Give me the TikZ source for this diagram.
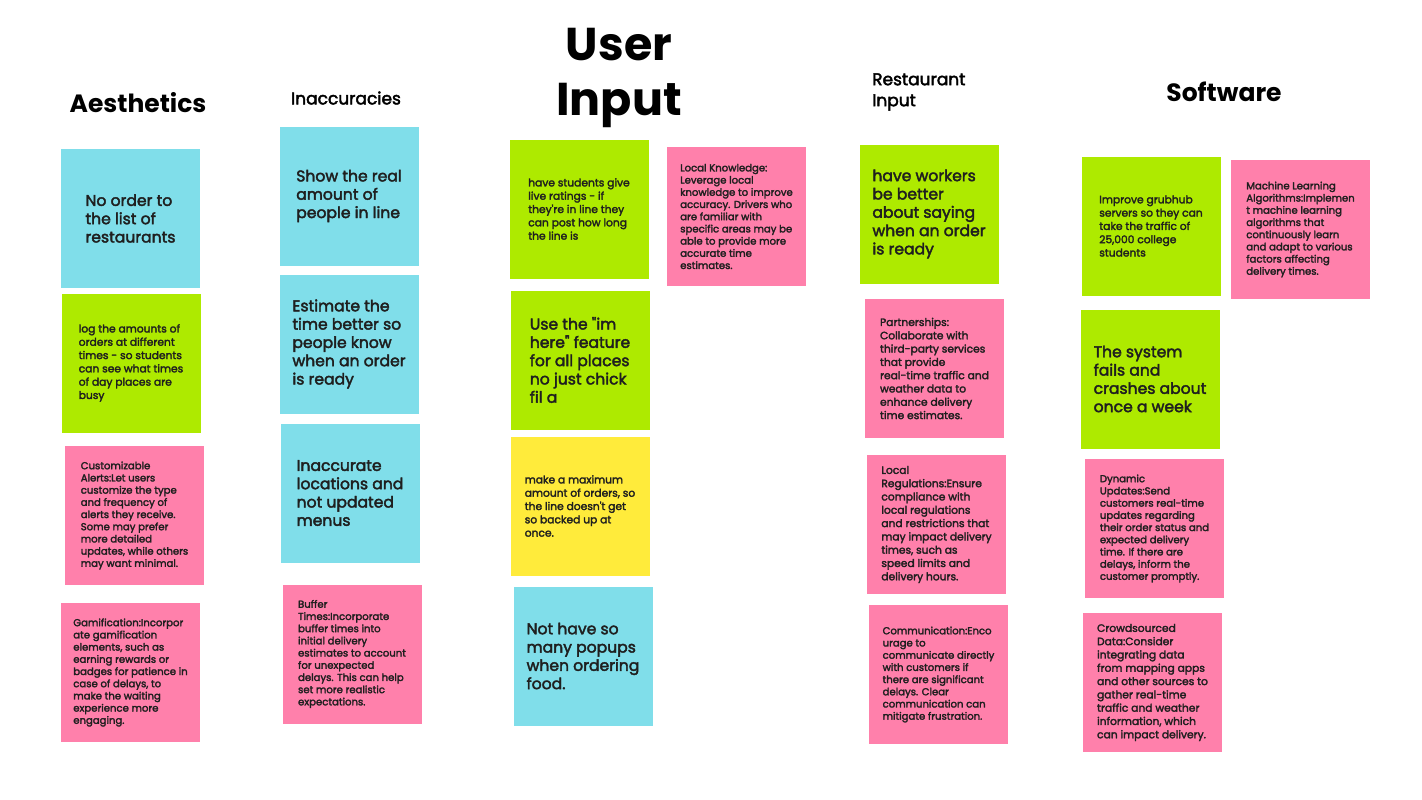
\documentclass[tikz,border=0pt]{standalone}
\usepackage{fontspec}
\setmainfont{Poppins}
\newfontfamily\notefont{Poppins}[FakeBold=2.5]
\definecolor{cyannote}{HTML}{80DEEA}
\definecolor{limenote}{HTML}{AEEA00}
\definecolor{pinknote}{HTML}{FF80AB}
\definecolor{yellownote}{HTML}{FFEB3B}
\begin{document}
\begin{tikzpicture}[x=1pt, y=-1pt,
  note/.style={minimum width=139pt, minimum height=139pt, inner sep=0pt, align=left, text=black!88},
  notesmall/.style={note, font=\notefont\fontsize{10.1}{12.2}\selectfont},
  notemid/.style={note, font=\notefont\fontsize{10.7}{13.3}\selectfont},
  notebig/.style={note, font=\notefont\fontsize{15.6}{18.3}\selectfont},
  heading/.style={inner sep=0pt, text=black, font=\fontsize{25}{30}\selectfont\bfseries},
  subheading/.style={inner sep=0pt, text=black, align=left, font=\notefont\fontsize{17}{21}\selectfont}]
\useasboundingbox[fill=white] (0,0) rectangle (1422,800);
% Aesthetics
\node[heading] (aesTitle) at (138,103) {Aesthetics};
\node[notebig,fill=cyannote] (aes1) at (130.5,218.5) {No order to\\the list of\\restaurants};
\node[notemid,fill=limenote] (aes2) at (131,363) {log the amounts of\\orders at different\\times - so students\\can see what times\\of day places are\\busy};
\node[notesmall,fill=pinknote] (aes3) at (134.5,515.5) {Customizable\\Alerts:Let users\\customize the type\\and frequency of\\alerts they receive.\\Some may prefer\\more detailed\\updates, while others\\may want minimal.};
\node[notesmall,fill=pinknote] (aes4) at (130.5,672.5) {Gamification:Incorpor\\ate gamification\\elements, such as\\earning rewards or\\badges for patience in\\case of delays, to\\make the waiting\\experience more\\engaging.};
% Inaccuracies
\node[subheading] (inaccTitle) at (346,98) {Inaccuracies};
\node[notebig,fill=cyannote] (inacc1) at (349,196) {Show the real\\amount of\\people in line};
\node[notebig,fill=cyannote] (inacc2) at (349,344) {Estimate the\\time better so\\people know\\when an order\\is ready};
\node[notebig,fill=cyannote] (inacc3) at (350,493) {Inaccurate\\locations and\\not updated\\menus};
\node[notesmall,fill=pinknote] (inacc4) at (352,654) {Buffer\\Times:Incorporate\\buffer times into\\initial delivery\\estimates to account\\for unexpected\\delays. This can help\\set more realistic\\expectations.};
% User input
\node[heading,align=center,font=\fontsize{46}{55}\selectfont\bfseries] (userTitle) at (619,78) {User\\Input};
\node[notemid,fill=limenote] (user1) at (579,209) {have students give\\live ratings - if\\they're in line they\\can post how long\\the line is};
\node[notesmall,fill=pinknote] (user2) at (736.5,216.5) {Local Knowledge:\\Leverage local\\knowledge to improve\\accuracy. Drivers who\\are familiar with\\specific areas may be\\able to provide more\\accurate time\\estimates.};
\node[notebig,fill=limenote] (user3) at (580,360) {Use the "im\\here" feature\\for all places\\no just chick\\fil a};
\node[notemid,fill=yellownote] (user4) at (580,506) {make a maximum\\amount of orders, so\\the line doesn't get\\so backed up at\\once.};
\node[notebig,fill=cyannote] (user5) at (583,656) {Not have so\\many popups\\when ordering\\food.};
% Restaurant input
\node[subheading,anchor=west] (restTitle) at (872,92) {Restaurant\\Input};
\node[notebig,fill=limenote] (rest1) at (929,214) {have workers\\be better\\about saying\\when an order\\is ready};
\node[notemid,fill=pinknote] (rest2) at (934.5,368.5) {Partnerships:\\Collaborate with\\third-party services\\that provide\\real-time traffic and\\weather data to\\enhance delivery\\time estimates.};
\node[notemid,fill=pinknote] (rest3) at (936.5,524.5) {Local\\Regulations:Ensure\\compliance with\\local regulations\\and restrictions that\\may impact delivery\\times, such as\\speed limits and\\delivery hours.};
\node[notesmall,fill=pinknote] (rest4) at (938.5,674.5) {Communication:Enco\\urage to\\communicate directly\\with customers if\\there are significant\\delays. Clear\\communication can\\mitigate frustration.};
% Software
\node[heading] (softTitle) at (1224,92) {Software};
\node[notemid,fill=limenote] (soft1) at (1151,226) {Improve grubhub\\servers so they can\\take the traffic of\\25,000 college\\students};
\node[notesmall,fill=pinknote] (soft2) at (1300.5,229.5) {Machine Learning\\Algorithms:Implemen\\t machine learning\\algorithms that\\continuously learn\\and adapt to various\\factors affecting\\delivery times.};
\node[notebig,fill=limenote] (soft3) at (1150,379) {The system\\fails and\\crashes about\\once a week};
\node[notesmall,fill=pinknote] (soft4) at (1154.5,528.5) {Dynamic\\Updates:Send\\customers real-time\\updates regarding\\their order status and\\expected delivery\\time. If there are\\delays, inform the\\customer promptly.};
\node[notemid,fill=pinknote] (soft5) at (1152.5,682.5) {Crowdsourced\\Data:Consider\\integrating data\\from mapping apps\\and other sources to\\gather real-time\\traffic and weather\\information, which\\can impact delivery.};
\end{tikzpicture}
\end{document}
